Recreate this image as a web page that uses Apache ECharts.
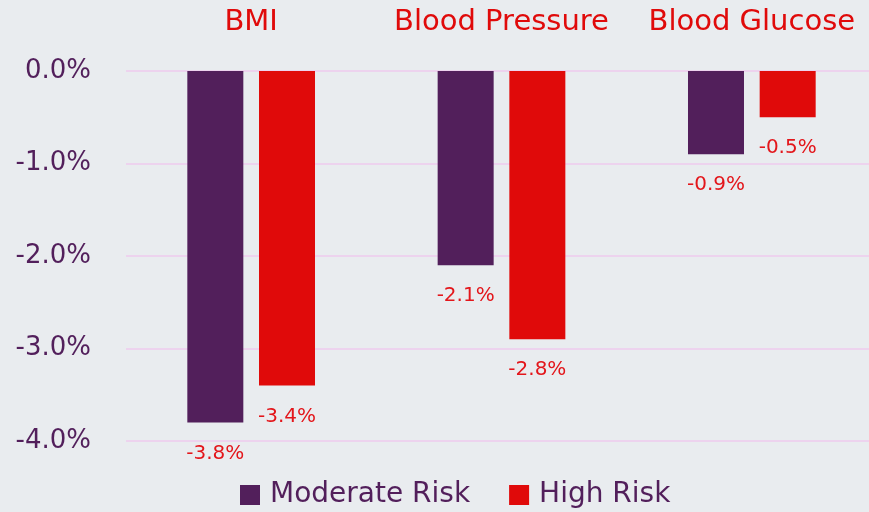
<!DOCTYPE html>
<html>
<head>
<meta charset="utf-8">
<script src="https://cdn.jsdelivr.net/npm/echarts@6/dist/echarts.min.js"></script>
<style>
html,body{margin:0;padding:0;background:#E9ECEF;}
#c{width:869px;height:512px;}
</style>
</head>
<body>
<div id="c"></div>
<script>
const categories = ['BMI', 'Blood Pressure', 'Blood Glucose'];
const seriesNames = ['Moderate Risk', 'High Risk'];
const moderateValues = [-3.8, -2.1, -0.9];
const highValues = [-3.4, -2.9, -0.5];
const moderateLabels = ['-3.8%', '-2.1%', '-0.9%'];
const highLabels = ['-3.4%', '-2.8%', '-0.5%'];
const yTicks = [0, -1, -2, -3, -4];

const FONT = '"DejaVu Sans", sans-serif';
const PURPLE = '#521F5B';
const RED = '#E00A0A';
const LABEL_RED = '#E3161B';

const chart = echarts.init(document.getElementById('c'));
chart.setOption({
  backgroundColor: '#E9ECEF',
  animation: false,
  grid: { left: 126, width: 751, top: 71, bottom: 71, outerBoundsMode: 'none', containLabel: false },
  legend: {
    bottom: -2,
    left: 235,
    icon: 'rect',
    itemWidth: 20,
    itemHeight: 20,
    itemGap: 39,
    textStyle: { color: PURPLE, fontSize: 28, fontFamily: FONT, padding: [0, 0, 0, 5] },
    data: seriesNames
  },
  xAxis: {
    type: 'category',
    position: 'top',
    data: categories,
    axisLine: { show: false },
    axisTick: { show: false },
    axisLabel: { color: RED, fontSize: 29, fontFamily: FONT, margin: 34, interval: 0, hideOverlap: false }
  },
  yAxis: {
    type: 'value',
    min: yTicks[yTicks.length - 1],
    max: yTicks[0],
    interval: 1,
    axisLine: { show: false },
    axisTick: { show: false },
    axisLabel: {
      color: PURPLE, fontSize: 26, fontFamily: FONT, margin: 35,
      formatter: v => v.toFixed(1) + '%'
    },
    splitLine: { lineStyle: { color: '#EDD3EE', width: 2 } }
  },
  series: [
    {
      name: seriesNames[0], type: 'bar', data: moderateValues,
      barWidth: 56, barGap: '28%',
      itemStyle: { color: PURPLE },
      label: {
        show: true, position: 'bottom', distance: 21,
        color: LABEL_RED, fontSize: 20, fontFamily: FONT,
        formatter: p => moderateLabels[p.dataIndex]
      }
    },
    {
      name: seriesNames[1], type: 'bar', data: highValues,
      barWidth: 56, barGap: '28%',
      itemStyle: { color: RED },
      label: {
        show: true, position: 'bottom', distance: 21,
        color: LABEL_RED, fontSize: 20, fontFamily: FONT,
        formatter: p => highLabels[p.dataIndex]
      }
    }
  ]
});
</script>
</body>
</html>
